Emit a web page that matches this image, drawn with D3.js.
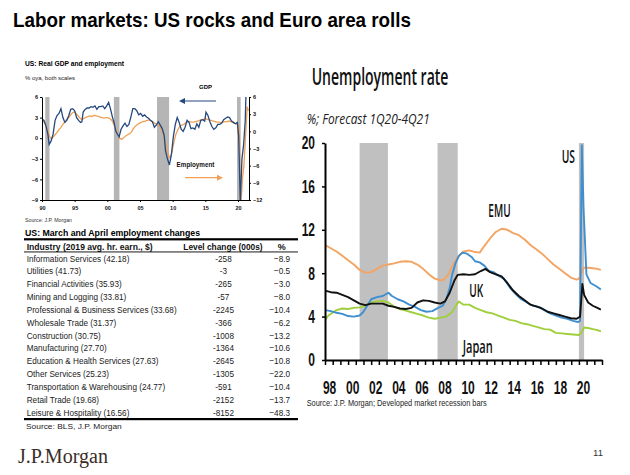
<!DOCTYPE html>
<html><head><meta charset="utf-8">
<script src="https://cdn.jsdelivr.net/npm/d3@7"></script>
<style>html,body{margin:0;padding:0;background:#fff;} svg{display:block;}</style>
</head><body>
<svg id="c" width="630" height="475"></svg>
<script>
// ---------------- DATA ----------------
// Left chart: US real GDP (% oya, left axis) and employment (% oya, right axis)
const gdpSeries = [[1990.0,2.8],[1990.3,2.6],[1990.6,1.8],[1990.9,0.6],[1991.1,-0.9],[1991.4,-0.4],[1991.7,0.6],
 [1992.0,2.6],[1992.3,3.3],[1992.6,3.6],[1992.9,4.3],[1993.2,3.0],[1993.5,2.3],[1993.8,2.6],[1994.1,3.3],[1994.4,4.2],
 [1994.7,4.3],[1995.0,4.0],[1995.3,3.0],[1995.6,2.6],[1995.9,2.3],[1996.1,2.4],[1996.3,3.8],[1996.6,4.2],[1996.9,4.4],
 [1997.2,4.4],[1997.5,4.6],[1997.8,4.5],[1998.1,4.7],[1998.4,4.2],[1998.7,4.6],[1999.0,4.6],[1999.3,4.7],[1999.6,4.3],
 [1999.9,4.7],[2000.2,5.2],[2000.5,4.2],[2000.8,3.0],[2001.0,2.4],[2001.3,1.0],[2001.6,0.5],[2001.8,0.2],[2002.1,1.3],
 [2002.4,1.8],[2002.7,2.2],[2003.0,1.7],[2003.3,2.0],[2003.6,3.1],[2003.9,4.3],[2004.2,4.3],[2004.5,4.0],[2004.8,3.4],
 [2005.1,3.6],[2005.4,3.2],[2005.7,3.4],[2006.0,3.1],[2006.3,2.9],[2006.6,2.6],[2006.9,2.4],[2007.2,1.6],[2007.5,1.9],
 [2007.8,2.4],[2008.1,1.9],[2008.4,1.4],[2008.7,0.4],[2008.9,-1.8],[2009.2,-3.0],[2009.5,-3.9],[2009.8,-2.4],[2010.1,0.2],
 [2010.4,2.0],[2010.7,3.0],[2011.0,2.3],[2011.3,1.3],[2011.6,1.0],[2011.9,1.6],[2012.2,2.6],[2012.5,2.3],[2012.8,1.4],
 [2013.1,1.5],[2013.4,1.3],[2013.7,2.1],[2014.0,1.6],[2014.3,2.6],[2014.6,2.7],[2014.9,2.5],[2015.1,3.8],[2015.4,3.3],
 [2015.7,2.4],[2016.0,1.7],[2016.3,1.3],[2016.6,1.5],[2016.9,2.0],[2017.2,2.0],[2017.5,2.2],[2017.8,2.7],[2018.1,2.9],
 [2018.4,3.1],[2018.7,3.0],[2019.0,2.5],[2019.3,2.3],[2019.6,2.1],[2019.9,2.3],[2020.1,0.3],[2020.35,-9.5],[2020.6,-3.0],
 [2020.85,-1.0],[2021.1,2.5],[2021.3,9.0]];
const empSeries = [[1990.0,2.0],[1990.3,1.6],[1990.6,1.1],[1990.9,0.2],[1991.1,-0.8],[1991.4,-1.3],[1991.7,-1.0],
 [1992.0,-0.6],[1992.3,-0.2],[1992.6,0.3],[1992.9,0.7],[1993.2,1.2],[1993.5,1.7],[1993.8,2.1],[1994.1,2.4],[1994.4,2.9],
 [1994.7,3.3],[1995.0,3.4],[1995.3,3.0],[1995.6,2.6],[1995.9,2.2],[1996.2,2.1],[1996.5,2.3],[1996.8,2.5],[1997.1,2.6],
 [1997.4,2.7],[1997.7,2.6],[1998.0,2.8],[1998.3,2.7],[1998.6,2.6],[1998.9,2.5],[1999.2,2.4],[1999.5,2.3],[1999.8,2.4],
 [2000.1,2.4],[2000.4,2.2],[2000.7,1.9],[2001.0,1.2],[2001.3,0.4],[2001.6,-0.5],[2001.9,-1.2],[2002.2,-1.4],[2002.5,-1.1],
 [2002.8,-0.8],[2003.1,-0.6],[2003.4,-0.4],[2003.7,-0.1],[2004.0,0.5],[2004.3,0.9],[2004.6,1.2],[2004.9,1.4],[2005.2,1.6],
 [2005.5,1.7],[2005.8,1.8],[2006.1,1.9],[2006.4,2.0],[2006.7,1.8],[2007.0,1.6],[2007.3,1.4],[2007.6,1.2],[2007.9,1.0],
 [2008.2,0.5],[2008.5,-0.3],[2008.8,-1.5],[2009.1,-3.0],[2009.4,-4.3],[2009.6,-4.7],[2009.9,-3.6],[2010.2,-1.8],[2010.5,-0.5],
 [2010.8,0.3],[2011.1,0.9],[2011.4,1.1],[2011.7,1.2],[2012.0,1.5],[2012.3,1.6],[2012.6,1.7],[2012.9,1.6],[2013.2,1.6],
 [2013.5,1.7],[2013.8,1.8],[2014.1,1.9],[2014.4,2.0],[2014.7,2.1],[2015.0,2.2],[2015.3,2.1],[2015.6,2.0],[2015.9,1.9],
 [2016.2,1.8],[2016.5,1.7],[2016.8,1.6],[2017.1,1.6],[2017.4,1.5],[2017.7,1.6],[2018.0,1.7],[2018.3,1.7],[2018.6,1.8],
 [2018.9,1.7],[2019.2,1.5],[2019.5,1.4],[2019.8,1.3],[2020.0,1.1],[2020.2,0.4],[2020.4,-13.5],[2020.7,-8.0],[2020.9,-6.0],
 [2021.15,-1.0],[2021.4,4.3],[2021.6,3.6]];
const leftRecessions = [[1990.5,1991.15],[2001.0,2001.85],[2007.6,2009.45],[2019.85,2020.4]];
const leftYearTicks = [1990,1995,2000,2005,2010,2015,2020];
const leftYearLabels = ["90","95","00","05","10","15","20"];
const gdpTicks = [6,3,0,-3,-6,-9];
const empTicks = [6,3,0,-3,-6,-9,-12];

// Table: US March and April employment changes
const industries = ["Information Services","Utilities","Financial Activities","Mining and Logging",
 "Professional & Business Services","Wholesale Trade","Construction","Manufacturing",
 "Education & Health Services","Other Services","Transportation & Warehousing","Retail Trade","Leisure & Hospitality"];
const avgEarnings = [42.18,41.73,35.93,33.81,33.68,31.37,30.75,27.70,27.63,25.23,24.77,19.68,16.56];
const levelChanges = [-258,-3,-265,-57,-2245,-366,-1008,-1364,-2645,-1305,-591,-2152,-8152];
const pctChanges = [-8.9,-0.5,-3.0,-8.0,-10.4,-6.2,-13.2,-10.6,-10.8,-22.0,-10.4,-13.7,-48.3];

// Right chart: unemployment rate (%)
const emuSeries = [[1998.0,10.6],[1998.5,10.3],[1999.0,10.0],[1999.5,9.6],[2000.0,9.2],[2000.5,8.8],[2001.0,8.3],
 [2001.5,8.05],[2002.0,8.1],[2002.5,8.4],[2003.0,8.7],[2003.5,8.8],[2004.0,8.9],[2004.5,9.05],[2005.0,9.1],[2005.5,9.05],
 [2006.0,8.8],[2006.5,8.4],[2007.0,7.9],[2007.5,7.5],[2008.0,7.35],[2008.3,7.4],[2008.7,7.9],[2009.0,8.6],[2009.5,9.5],
 [2010.0,10.0],[2010.5,10.1],[2011.0,9.95],[2011.4,9.9],[2011.8,10.5],[2012.3,11.2],[2012.8,11.8],[2013.3,12.1],
 [2013.8,12.0],[2014.3,11.7],[2014.8,11.5],[2015.3,11.1],[2015.8,10.6],[2016.3,10.2],[2016.8,9.8],[2017.3,9.3],
 [2017.8,8.8],[2018.3,8.4],[2018.8,8.0],[2019.3,7.6],[2019.8,7.4],[2020.0,7.5],[2020.2,7.9],[2020.4,8.5],[2020.8,8.5],
 [2021.2,8.45],[2021.6,8.4],[2021.9,8.3]];
const usSeries = [[1998.0,4.6],[1998.5,4.5],[1999.0,4.35],[1999.5,4.25],[2000.0,4.05],[2000.5,4.0],[2001.0,4.1],
 [2001.3,4.4],[2001.6,4.9],[2002.0,5.6],[2002.5,5.8],[2003.0,5.9],[2003.5,6.2],[2003.8,5.9],[2004.3,5.6],[2004.8,5.4],
 [2005.3,5.1],[2005.8,4.9],[2006.3,4.6],[2006.8,4.45],[2007.3,4.5],[2007.8,4.8],[2008.2,5.0],[2008.5,5.6],[2008.8,6.6],
 [2009.0,7.8],[2009.3,8.9],[2009.6,9.6],[2009.9,9.9],[2010.3,9.8],[2010.7,9.5],[2011.0,9.1],[2011.4,9.0],[2011.8,8.7],
 [2012.2,8.2],[2012.6,8.1],[2013.0,7.8],[2013.5,7.5],[2014.0,6.7],[2014.5,6.1],[2015.0,5.6],[2015.5,5.3],[2016.0,5.0],
 [2016.5,4.9],[2017.0,4.6],[2017.5,4.3],[2018.0,4.1],[2018.5,3.9],[2019.0,3.8],[2019.5,3.6],[2019.9,3.5],[2020.1,3.6],
 [2020.25,19.8],[2020.4,14.0],[2020.65,7.9],[2021.0,7.1],[2021.5,6.8],[2021.9,6.5]];
const ukSeries = [[1998.0,6.4],[1998.5,6.25],[1999.0,6.2],[1999.5,6.0],[2000.0,5.8],[2000.5,5.5],[2001.0,5.2],
 [2001.5,5.05],[2002.0,5.2],[2002.5,5.2],[2003.0,5.2],[2003.5,5.0],[2004.0,4.9],[2004.5,4.75],[2005.0,4.7],[2005.5,4.8],
 [2006.0,5.3],[2006.5,5.5],[2007.0,5.45],[2007.5,5.3],[2008.0,5.2],[2008.4,5.4],[2008.8,6.2],[2009.2,7.3],[2009.5,7.85],
 [2010.0,7.9],[2010.5,7.85],[2011.0,7.9],[2011.5,8.2],[2011.9,8.4],[2012.3,8.1],[2012.8,7.9],[2013.3,7.7],[2013.8,7.1],
 [2014.3,6.4],[2014.8,5.9],[2015.3,5.5],[2015.8,5.1],[2016.3,4.95],[2016.8,4.75],[2017.3,4.45],[2017.8,4.3],[2018.3,4.15],
 [2018.8,4.0],[2019.3,3.85],[2019.8,3.8],[2020.1,4.0],[2020.3,7.0],[2020.45,6.0],[2020.8,5.3],[2021.2,5.0],[2021.6,4.8],
 [2021.9,4.65]];
const japanSeries = [[1998.0,3.7],[1998.3,4.1],[1998.7,4.4],[1999.0,4.6],[1999.5,4.75],[2000.0,4.7],[2000.5,4.8],
 [2001.0,4.85],[2001.5,5.0],[2002.0,5.3],[2002.5,5.4],[2003.0,5.45],[2003.5,5.3],[2004.0,4.9],[2004.5,4.7],[2005.0,4.55],
 [2005.5,4.4],[2006.0,4.25],[2006.5,4.1],[2007.0,3.9],[2007.5,3.8],[2008.0,3.9],[2008.5,4.0],[2009.0,4.4],[2009.4,5.1],
 [2009.6,5.4],[2010.0,5.1],[2010.5,5.1],[2011.0,4.8],[2011.5,4.6],[2012.0,4.4],[2012.5,4.3],[2013.0,4.1],[2013.5,3.9],
 [2014.0,3.7],[2014.5,3.6],[2015.0,3.4],[2015.5,3.3],[2016.0,3.15],[2016.5,3.0],[2017.0,2.85],[2017.5,2.8],[2018.0,2.5],
 [2018.5,2.45],[2019.0,2.4],[2019.5,2.35],[2020.0,2.3],[2020.2,2.5],[2020.45,3.0],[2020.8,2.95],[2021.2,2.85],
 [2021.6,2.75],[2021.9,2.65]];
const rightRecessions = [[2001.0,2003.45],[2007.75,2009.5],[2020.0,2020.45]];
const unempTicks = [0,4,8,12,16,20];
const yearLabelValues = [1998,2000,2002,2004,2006,2008,2010,2012,2014,2016,2018,2020];
const yearLabels = ["98","00","02","04","06","08","10","12","14","16","18","20"];
const seriesNames = ["US","EMU","UK","Japan"];

// ---------------- DRAW ----------------
const svg = d3.select("#c");
svg.append("rect").attr("width",630).attr("height",475).attr("fill","#fff");
const SANS = "'Liberation Sans', Arial, sans-serif";
const COND = "'Open Sans', 'Noto Sans', sans-serif";

function label(g, x, y, s, o = {}) {
  const t = g.append("text").attr("x", x).attr("y", y).text(s)
    .attr("font-family", o.family || SANS)
    .attr("font-size", o.size || 10)
    .attr("font-weight", o.weight || "normal")
    .attr("fill", o.fill || "#000")
    .attr("text-anchor", o.anchor || "start");
  if (o.italic) t.attr("font-style", "italic");
  if (o.len) t.attr("textLength", o.len).attr("lengthAdjust", "spacingAndGlyphs");
  return t;
}
function squeezed(g, x, y, s, sx, o = {}) {
  const t = label(g, 0, 0, s, o);
  t.attr("transform", `translate(${x},${y}) scale(${sx},1)`);
  return t;
}

// Slide title
label(svg, 13, 27, "Labor markets: US rocks and Euro area rolls", {size: 21, weight: "bold", len: 398});

// ===== Left chart =====
const L = svg.append("g");
label(L, 25, 66, "US: Real GDP and employment", {size: 7.5, weight: "bold", len: 99});
label(L, 25, 80, "% oya, both scales", {size: 6, len: 50, fill: "#222"});

const lx = d3.scaleLinear().domain([1990, 2021.68]).range([42, 249]);
const ly = d3.scaleLinear().domain([-9, 6]).range([200, 97]);
const ly2 = d3.scaleLinear().domain([-12, 6]).range([200, 97]);

svg.append("defs").append("clipPath").attr("id", "clipL")
  .append("rect").attr("x", 42).attr("y", 97).attr("width", 207).attr("height", 103);

L.selectAll("rect.rec").data(leftRecessions).join("rect").attr("class", "rec")
  .attr("x", d => lx(d[0])).attr("width", d => lx(d[1]) - lx(d[0]))
  .attr("y", 97).attr("height", 103).attr("fill", "#b5b5b5");

const lineG = d3.line().x(d => lx(d[0])).y(d => ly(d[1]));
const lineE = d3.line().x(d => lx(d[0])).y(d => ly2(d[1]));
L.append("path").attr("d", lineE(empSeries)).attr("fill", "none").attr("stroke", "#f0a157")
  .attr("stroke-width", 1.3).attr("clip-path", "url(#clipL)");
L.append("path").attr("d", lineG(gdpSeries)).attr("fill", "none").attr("stroke", "#25497f")
  .attr("stroke-width", 1.3).attr("clip-path", "url(#clipL)");

function styleAxis(g, size) {
  g.selectAll("path.domain").attr("stroke", "#000").attr("stroke-width", 1);
  g.selectAll(".tick line").attr("stroke", "#000");
  g.selectAll("text").attr("font-family", SANS).attr("font-size", size).attr("font-weight", "bold").attr("fill", "#111");
}
const axL = L.append("g").attr("transform", "translate(42,0)")
  .call(d3.axisLeft(ly).tickValues(gdpTicks).tickSize(2).tickPadding(2).tickSizeOuter(0).tickFormat(d3.format("d")));
styleAxis(axL, 5.5);
const axR = L.append("g").attr("transform", "translate(249,0)")
  .call(d3.axisRight(ly2).tickValues(empTicks).tickSize(2).tickPadding(2).tickSizeOuter(0).tickFormat(d3.format("d")));
styleAxis(axR, 5.5);
const axB = L.append("g").attr("transform", "translate(0,200)")
  .call(d3.axisBottom(lx).tickValues(leftYearTicks).tickSize(2).tickPadding(4).tickSizeOuter(0)
    .tickFormat((d, i) => leftYearLabels[i]));
styleAxis(axB, 5.5);

// GDP / Employment annotations
label(L, 205.5, 89, "GDP", {size: 6, weight: "bold", anchor: "middle"});
const defs = svg.select("defs");
defs.append("marker").attr("id", "arrN").attr("viewBox", "0 0 10 10").attr("refX", 5).attr("refY", 5)
  .attr("markerWidth", 5).attr("markerHeight", 5).attr("orient", "auto-start-reverse")
  .append("path").attr("d", "M0,0 L10,5 L0,10 z").attr("fill", "#25497f");
defs.append("marker").attr("id", "arrO").attr("viewBox", "0 0 10 10").attr("refX", 5).attr("refY", 5)
  .attr("markerWidth", 5).attr("markerHeight", 5).attr("orient", "auto")
  .append("path").attr("d", "M0,0 L10,5 L0,10 z").attr("fill", "#f0a157");
L.append("line").attr("x1", 216).attr("x2", 182).attr("y1", 101).attr("y2", 101)
  .attr("stroke", "#25497f").attr("stroke-width", 1.2).attr("marker-end", "url(#arrN)");
label(L, 195.5, 166.5, "Employment", {size: 6.3, weight: "bold", anchor: "middle", fill: "#111"});
L.append("line").attr("x1", 185).attr("x2", 220).attr("y1", 177.7).attr("y2", 177.7)
  .attr("stroke", "#f0a157").attr("stroke-width", 1.2).attr("marker-end", "url(#arrO)");
label(L, 25, 221.5, "Source: J.P. Morgan", {size: 4.8, fill: "#333", len: 47});

// ===== Table =====
const T = svg.append("g");
label(T, 25, 236, "US: March and April employment changes", {size: 9.3, weight: "bold", len: 175});
T.append("rect").attr("x", 24).attr("y", 238.2).attr("width", 274).attr("height", 2.2).attr("fill", "#000");
label(T, 26.7, 249.8, "Industry (2019 avg. hr. earn., $)", {size: 9, weight: "bold", len: 126, fill: "#111"});
label(T, 183.3, 249.8, "Level change (000s)", {size: 9, weight: "bold", len: 79.3, fill: "#111"});
label(T, 281.7, 249.8, "%", {size: 9, weight: "bold", anchor: "middle", fill: "#111"});
T.append("rect").attr("x", 24).attr("y", 251.5).attr("width", 274).attr("height", 0.9).attr("fill", "#000");
const rowY = d3.scalePoint().domain(industries).range([258.3, 412.3]);
const f2 = d3.format(".2f"), f1 = d3.format(".1f");
industries.forEach((name, i) => {
  const yb = rowY(name) + 3.3;
  squeezed(T, 26.7, yb, `${name} (${f2(avgEarnings[i])})`, 0.88, {size: 9.3, fill: "#222"});
  squeezed(T, 223.5, yb, String(levelChanges[i]), 0.88, {size: 9.3, fill: "#222", anchor: "middle"});
  squeezed(T, 290, yb, f1(pctChanges[i]), 0.88, {size: 9.3, fill: "#222", anchor: "end"});
});
T.append("rect").attr("x", 24).attr("y", 418).attr("width", 274).attr("height", 2.2).attr("fill", "#000");
label(T, 26, 428.5, "Source: BLS, J.P. Morgan", {size: 7.5, fill: "#222", len: 95.7});

// ===== Right chart =====
const R = svg.append("g");
label(R, 311.7, 85, "Unemployment rate", {family: COND, size: 23, weight: 600, len: 136.7, fill: "#111"});
label(R, 306.7, 124, "%; Forecast 1Q20-4Q21", {family: COND, size: 15, italic: true, len: 123, fill: "#222"});

const rx = d3.scaleLinear().domain([1998, 2022]).range([325, 602]);
const ry = d3.scaleLinear().domain([0, 20]).range([360, 143]);
defs.append("clipPath").attr("id", "clipR")
  .append("rect").attr("x", 325).attr("y", 141).attr("width", 277).attr("height", 219);

R.selectAll("rect.rec").data(rightRecessions).join("rect").attr("class", "rec")
  .attr("x", d => rx(d[0])).attr("width", d => rx(d[1]) - rx(d[0]))
  .attr("y", ry(20)).attr("height", ry(0) - ry(20)).attr("fill", "#c0c0c0");

const rline = d3.line().x(d => rx(d[0])).y(d => ry(d[1]));
const rSeries = [
  {data: japanSeries, color: "#9fcf3c"},
  {data: emuSeries, color: "#f4a462"},
  {data: usSeries, color: "#3f8fd0"},
  {data: ukSeries, color: "#111111"}
];
rSeries.forEach(s => {
  R.append("path").attr("d", rline(s.data)).attr("fill", "none").attr("stroke", s.color)
    .attr("stroke-width", 1.9).attr("stroke-linejoin", "round").attr("clip-path", "url(#clipR)");
});

// axes
const ryAx = R.append("g").attr("transform", "translate(325,0)")
  .call(d3.axisLeft(ry).tickValues(unempTicks).tickSize(3).tickSizeOuter(0).tickFormat(""));
ryAx.selectAll("path.domain").attr("stroke", "#000").attr("stroke-width", 2);
ryAx.selectAll(".tick line").attr("stroke", "#000").attr("stroke-width", 1.5);
unempTicks.forEach(v => {
  const s = String(v);
  label(R, 315 - (s.length === 1 ? 6.7 : 13.3), ry(v) + 6.3, s,
    {family: SANS, size: 18, weight: "bold", len: s.length === 1 ? 6.7 : 13.3, fill: "#111"});
});
const tickVals = d3.range(37).map(k => 1998 + k * 2 / 3);
const rxAx = R.append("g").attr("transform", "translate(0,360)")
  .call(d3.axisBottom(rx).tickValues(tickVals).tickSize(5).tickSizeOuter(0).tickFormat(""));
rxAx.selectAll("path.domain").attr("stroke", "#000").attr("stroke-width", 2.2);
rxAx.selectAll(".tick line").attr("stroke", "#000").attr("stroke-width", 1.5);
yearLabelValues.forEach((yv, i) => {
  label(R, rx(yv + 0.4) - 6.7, 393.5, yearLabels[i], {family: SANS, size: 17.5, weight: "bold", len: 13.4, fill: "#111"});
});
label(R, 306.7, 405.5, "Source: J.P. Morgan; Developed market recession bars",
  {family: SANS, size: 9.5, len: 180, fill: "#222"});

// series labels
const seriesLabelPos = [[561.7, 162.5, 13.3], [488.3, 216.5, 22.3], [469.3, 296.5, 14], [462.7, 353, 30]];
seriesNames.forEach((n, i) => {
  const p = seriesLabelPos[i];
  label(R, p[0], p[1], n, {family: COND, size: 17.5, weight: 600, len: p[2], fill: "#111"});
});

// ===== Footer =====
label(svg, 18, 463, "J.P.Morgan", {family: "'Liberation Serif', 'DejaVu Serif', serif", size: 20, fill: "#3a2d28", len: 90});
label(svg, 598, 456, "11", {size: 9.5, fill: "#333", anchor: "middle"});
</script>
</body></html>
